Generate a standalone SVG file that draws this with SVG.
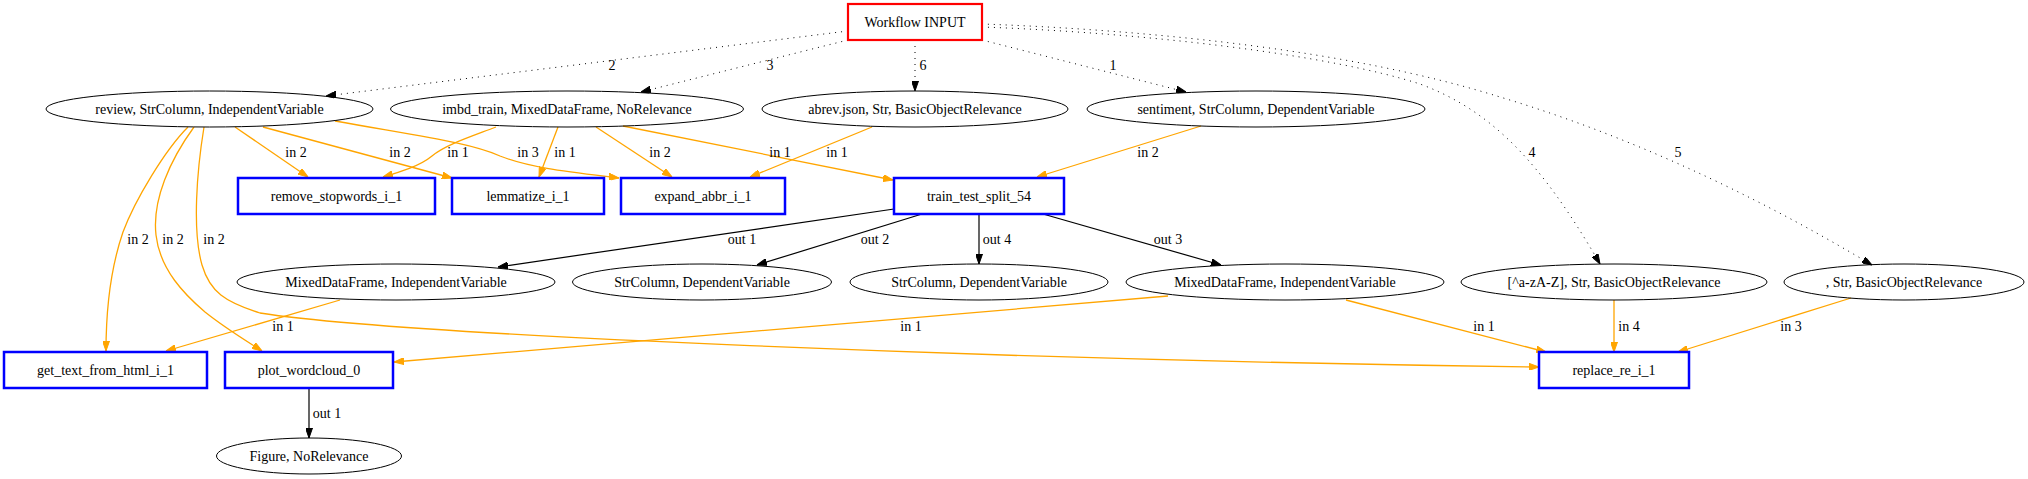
<svg xmlns="http://www.w3.org/2000/svg" width="2028" height="479" viewBox="0 0 2028 479">
<style>
text{font-family:"Liberation Serif","Times New Roman",serif;font-size:14px;fill:#000;text-anchor:middle}
.el{fill:none;stroke:#000;stroke-width:1}
.fn{fill:none;stroke:#0000ff;stroke-width:2.5}
.inp{fill:none;stroke:#ff0000;stroke-width:2.2}
.o{fill:none;stroke:#ffa500;stroke-width:1.3;marker-end:url(#ao)}
.k{fill:none;stroke:#000;stroke-width:1.2;marker-end:url(#ak)}
.d{fill:none;stroke:#000;stroke-width:1;stroke-dasharray:1,5;marker-end:url(#ak)}
</style>
<defs>
<marker id="ao" viewBox="0 0 10 7" refX="10" refY="3.5" markerWidth="10" markerHeight="7" markerUnits="userSpaceOnUse" orient="auto"><path d="M0,0L10,3.5L0,7z" fill="#ffa500" stroke="#ffa500" stroke-width="1"/></marker>
<marker id="ak" viewBox="0 0 10 7" refX="10" refY="3.5" markerWidth="10" markerHeight="7" markerUnits="userSpaceOnUse" orient="auto"><path d="M0,0L10,3.5L0,7z" fill="#000" stroke="#000" stroke-width="1"/></marker>
</defs>
<rect width="2028" height="479" fill="#fff"/>
<g id="edges">
<path class="d" d="M848,31 L326,96"/>
<path class="d" d="M848,40 L641,92"/>
<path class="d" d="M915,40 L915,91"/>
<path class="d" d="M982,40 L1186,92"/>
<path class="d" d="M982,27 C1150,33 1330,55 1420,84 C1490,110 1540,160 1600,264"/>
<path class="d" d="M982,24 C1150,30 1350,50 1500,97 C1650,142 1780,210 1872,265"/>
<path class="o" d="M235,127 L308,177"/>
<path class="o" d="M263,127 L452,178"/>
<path class="o" d="M335,121 C430,138 470,143 500,156 C530,168 570,172 619,178"/>
<path class="o" d="M496,127 C470,137 445,145 432,156 C420,166 400,172 383,177"/>
<path class="o" d="M558,127 L539,177"/>
<path class="o" d="M596,127 L672,177"/>
<path class="o" d="M623,126 L893,180"/>
<path class="o" d="M872,127 L750,177"/>
<path class="o" d="M1201,126 L1037,177"/>
<path class="k" d="M894,209 L498,267"/>
<path class="k" d="M922,214 L757,265"/>
<path class="k" d="M979,214 L979,264"/>
<path class="k" d="M1043,214 L1221,265"/>
<path class="o" d="M188,127 C165,150 135,200 123,232 C110,270 106,310 106,351"/>
<path class="o" d="M194,127 C170,160 152,200 156,235 C160,270 185,295 205,312 C225,328 245,340 262,351"/>
<path class="o" d="M204,127 C197,170 192,230 202,265 C210,292 225,302 260,313 C400,335 1000,360 1539,367"/>
<path class="o" d="M340,300 L166,351"/>
<path class="o" d="M1168,296 L394,362"/>
<path class="o" d="M1346,300 L1546,352"/>
<path class="o" d="M1614,300 L1614,352"/>
<path class="o" d="M1851,298 L1678,352"/>
<path class="k" d="M309,388 L309,438"/>
<text x="612" y="70">2</text>
<text x="770" y="70">3</text>
<text x="923" y="70">6</text>
<text x="1113" y="70">1</text>
<text x="1532" y="157">4</text>
<text x="1678" y="157">5</text>
<text x="296" y="157">in 2</text>
<text x="400" y="157">in 2</text>
<text x="458" y="157">in 1</text>
<text x="528" y="157">in 3</text>
<text x="565" y="157">in 1</text>
<text x="660" y="157">in 2</text>
<text x="780" y="157">in 1</text>
<text x="837" y="157">in 1</text>
<text x="1148" y="157">in 2</text>
<text x="138" y="244">in 2</text>
<text x="173" y="244">in 2</text>
<text x="214" y="244">in 2</text>
<text x="742" y="244">out 1</text>
<text x="875" y="244">out 2</text>
<text x="997" y="244">out 4</text>
<text x="1168" y="244">out 3</text>
<text x="283" y="331">in 1</text>
<text x="911" y="331">in 1</text>
<text x="1484" y="331">in 1</text>
<text x="1629" y="331">in 4</text>
<text x="1791" y="331">in 3</text>
<text x="327" y="418">out 1</text>
</g>
<g id="workflow_input"><rect class="inp" x="848" y="4" width="134" height="36"/><text x="915" y="27">Workflow INPUT</text></g>
<g id="review"><ellipse class="el" cx="209.5" cy="109" rx="163.5" ry="18"/><text x="209.5" y="114">review, StrColumn, IndependentVariable</text></g>
<g id="imbd_train"><ellipse class="el" cx="567" cy="109" rx="176.5" ry="18"/><text x="567" y="114">imbd_train, MixedDataFrame, NoRelevance</text></g>
<g id="abrev_json"><ellipse class="el" cx="915" cy="109" rx="153" ry="18"/><text x="915" y="114">abrev.json, Str, BasicObjectRelevance</text></g>
<g id="sentiment"><ellipse class="el" cx="1256" cy="109" rx="169" ry="18"/><text x="1256" y="114">sentiment, StrColumn, DependentVariable</text></g>
<g id="remove_stopwords"><rect class="fn" x="238" y="178" width="197" height="36"/><text x="336.5" y="201">remove_stopwords_i_1</text></g>
<g id="lemmatize"><rect class="fn" x="452" y="178" width="152" height="36"/><text x="528" y="201">lemmatize_i_1</text></g>
<g id="expand_abbr"><rect class="fn" x="621" y="178" width="164" height="36"/><text x="703" y="201">expand_abbr_i_1</text></g>
<g id="train_test_split"><rect class="fn" x="894" y="178" width="170" height="36"/><text x="979" y="201">train_test_split_54</text></g>
<g id="out1_mdf"><ellipse class="el" cx="396" cy="282" rx="159" ry="18"/><text x="396" y="287">MixedDataFrame, IndependentVariable</text></g>
<g id="out2_str"><ellipse class="el" cx="702" cy="282" rx="129.5" ry="18"/><text x="702" y="287">StrColumn, DependentVariable</text></g>
<g id="out4_str"><ellipse class="el" cx="979" cy="282" rx="129" ry="18"/><text x="979" y="287">StrColumn, DependentVariable</text></g>
<g id="out3_mdf"><ellipse class="el" cx="1285" cy="282" rx="159" ry="18"/><text x="1285" y="287">MixedDataFrame, IndependentVariable</text></g>
<g id="regex"><ellipse class="el" cx="1614" cy="282" rx="153" ry="18"/><text x="1614" y="287">[^a-zA-Z], Str, BasicObjectRelevance</text></g>
<g id="space_str"><ellipse class="el" cx="1904" cy="282" rx="120" ry="18"/><text x="1904" y="287">, Str, BasicObjectRelevance</text></g>
<g id="get_text_from_html"><rect class="fn" x="4" y="352" width="203" height="36"/><text x="105.5" y="375">get_text_from_html_i_1</text></g>
<g id="plot_wordcloud"><rect class="fn" x="225" y="352" width="168" height="36"/><text x="309" y="375">plot_wordcloud_0</text></g>
<g id="replace_re"><rect class="fn" x="1539" y="352" width="150" height="36"/><text x="1614" y="375">replace_re_i_1</text></g>
<g id="figure"><ellipse class="el" cx="309" cy="456" rx="92.5" ry="18"/><text x="309" y="461">Figure, NoRelevance</text></g>
</svg>
